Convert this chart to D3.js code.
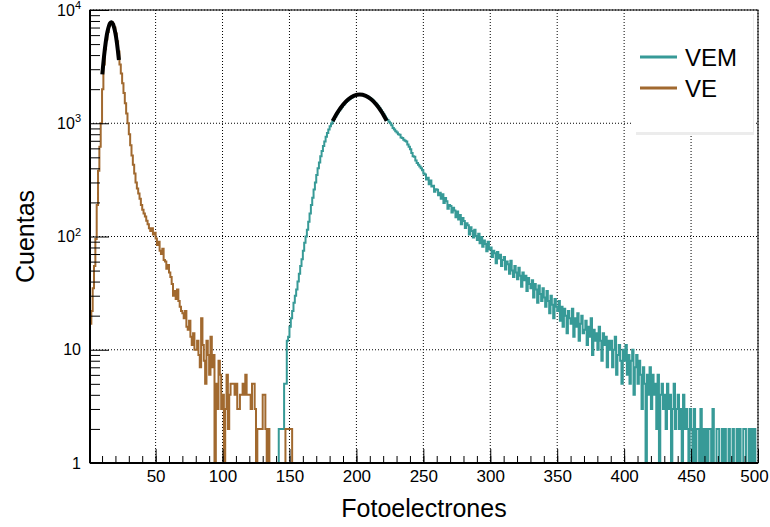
<!DOCTYPE html>
<html>
<head>
<meta charset="utf-8">
<script src="https://cdn.jsdelivr.net/npm/d3@7"></script>
<style>
  body { margin: 0; background: #fff; }
  svg { display: block; font-family: "Liberation Sans", Arial, Helvetica, sans-serif; }
  .tick text { fill: #000; }
</style>
</head>
<body>
<svg width="770" height="527"></svg>
<script>
// Histogram contents (1 unit wide bins, first bin lower edge given)
const veFirstBin = 1;
const veCounts = [
  17, 22, 35, 55, 95, 190, 380, 620, 1000,
  2000, 3300, 4500, 5500, 6400, 7200, 7700, 7800, 7500, 7000,
  6200, 5300, 4300, 3300, 2750, 2250, 1850, 1500, 1220, 1000,
  800, 640, 520, 430, 360, 300, 265, 240, 215, 190,
  172, 160, 150, 138, 128, 118, 112, 118, 104, 108,
  96, 84, 90, 75, 70, 78, 62, 60, 52, 56,
  48, 44, 38, 30, 33, 28, 34, 27, 24, 22,
  21, 19, 22, 16, 15, 18, 13, 11, 14, 10,
  10, 12, 9, 7, 19, 11, 8, 5, 12, 9,
  6, 13, 7, 9, 1, 5, 3, 8, 6, 3,
  4, 1, 3, 6, 2, 4, 5, 5, 5, 4,
  5, 3, 3, 4, 4, 5, 4, 6, 4, 4,
  4, 3, 5, 5, 3, 1, 2, 2, 2, 2,
  4, 4, 2, 1, 2, 1, 0, 1, 1, 0,
  0, 1, 0, 1, 1, 1, 0, 2, 2, 2,
  2, 2, 1, 0, 1, 1, 0, 1, 0, 1,
  0, 0, 1, 0, 0, 0, 0, 1, 0, 0,
  1
];

const vemFirstBin = 141;
const vemCounts = [
  0, 2, 2, 2, 2, 5, 5, 12, 13,
  16, 19, 22, 26, 30, 34, 40, 47, 55, 63,
  75, 88, 100, 115, 135, 160, 190, 220, 260, 300,
  350, 400, 450, 510, 570, 630, 690, 760, 820, 880,
  940, 990, 1040, 1090, 1150, 1200, 1250, 1300, 1350, 1400,
  1450, 1500, 1540, 1580, 1620, 1650, 1680, 1710, 1740, 1760,
  1780, 1785, 1790, 1790, 1785, 1775, 1760, 1740, 1715, 1690,
  1660, 1630, 1590, 1550, 1505, 1460, 1410, 1360, 1300, 1250,
  1200, 1150, 1100, 1070, 1030, 1000, 960, 910, 880, 850,
  830, 800, 790, 750, 740, 715, 700, 690, 650, 620,
  590, 545, 510, 505, 470, 445, 430, 415, 400, 385,
  360, 352, 318, 330, 290, 312, 276, 281, 248, 262,
  259, 231, 244, 215, 236, 198, 219, 205, 176, 190,
  186, 163, 179, 170, 148, 166, 141, 155, 128, 146,
  137, 119, 131, 126, 104, 121, 112, 98, 115, 101,
  93, 106, 87, 99, 81, 92, 86, 74, 90, 77,
  80, 66, 75, 71, 58, 73, 64, 69, 55, 62,
  66, 51, 60, 57, 47, 61, 50, 44, 55, 48,
  42, 53, 45, 36, 48, 41, 45, 33, 43, 38,
  35, 41, 29, 38, 34, 26, 37, 31, 27, 35,
  29, 24, 33, 27, 21, 30, 25, 19, 28, 24,
  22, 27, 18, 24, 16, 23, 20, 14, 22, 19,
  17, 23, 13, 19, 16, 21, 12, 17, 20, 14,
  15, 18, 11, 16, 13, 19, 9, 15, 12, 14,
  10, 16, 12, 8, 14, 11, 13, 7, 12, 10,
  12, 7, 10, 13, 6, 9, 11, 8, 5, 10,
  8, 11, 6, 9, 5, 8, 10, 4, 7, 9,
  5, 8, 6, 3, 7, 5, 1, 6, 4, 7,
  3, 6, 4, 5, 2, 6, 1, 4, 5, 3,
  4, 2, 5, 3, 4, 1, 3, 5, 2, 3,
  4, 2, 3, 1, 4, 2, 3, 2, 1, 3,
  2, 1, 3, 1, 2, 2, 1, 3, 1, 2,
  1, 2, 1, 2, 2, 1, 3, 1, 1, 2,
  2, 1, 1, 2, 1, 2, 1, 1, 2, 1,
  1, 2, 1, 1, 2, 1, 2, 1, 1, 2,
  2, 1, 1, 2, 1, 2, 1, 2, 1, 1
];

// Gaussian fit curves
const veFitX = [10.2, 12, 14, 16, 17, 18, 20, 22.6];
const veFitY = [2700, 4420, 6390, 7650, 7800, 7580, 6220, 3620];
const vemFitX = [182.3, 186, 190, 194, 198, 202.5, 207, 211, 215, 219, 222.6];
const vemFitY = [1047, 1251, 1457, 1628, 1743, 1790, 1743, 1628, 1457, 1251, 1052];

// Axis ticks
const xMajorTicks = [50, 100, 150, 200, 250, 300, 350, 400, 450, 500];
const xMinorTicks = d3.range(10, 501, 10);
const yMajorTicks = [1, 10, 100, 1000, 10000];
const yTickLabels = ["1", "10", "10^2", "10^3", "10^4"];

const legendNames = ["VEM", "VE"];
const colors = { VEM: "#379a97", VE: "#a1692f" };

let margin = { left: 90, right: 12, top: 10, bottom: 64 };
let W = 770, H = 527;
let w = W - margin.left - margin.right;
let h = H - margin.top - margin.bottom;

let svg = d3.select("svg");

let x = d3.scaleLinear().domain([1, 500]).range([0, w]);
let y = d3.scaleLog().domain([1, 10000]).range([h, 0]).clamp(true);

let g = svg.append("g").attr("transform", `translate(${margin.left},${margin.top})`);

// Grid
g.append("g")
  .selectAll("line")
  .data(xMajorTicks)
  .enter().append("line")
  .attr("x1", d => x(d)).attr("x2", d => x(d))
  .attr("y1", 0).attr("y2", h)
  .attr("stroke", "#000").attr("stroke-width", 1).attr("stroke-dasharray", "1,2");

g.append("g")
  .selectAll("line")
  .data(yMajorTicks)
  .enter().append("line")
  .attr("x1", 0).attr("x2", w)
  .attr("y1", d => y(d)).attr("y2", d => y(d))
  .attr("stroke", "#000").attr("stroke-width", 1).attr("stroke-dasharray", "1,2");

// Histograms
let defs = svg.append("defs");
defs.append("clipPath").attr("id", "frameClip")
  .append("rect").attr("width", w).attr("height", h);

let plot = g.append("g").attr("clip-path", "url(#frameClip)");

function histPoints(first, counts) {
  let pts = counts.map((c, i) => [first + i, c]);
  pts.push([first + counts.length, counts[counts.length - 1]]);
  return pts;
}

let stepLine = d3.line()
  .x(d => x(d[0]))
  .y(d => y(Math.max(d[1], 1)))
  .curve(d3.curveStepAfter);

plot.append("path")
  .attr("d", stepLine(histPoints(vemFirstBin, vemCounts)))
  .attr("fill", "none").attr("stroke", colors.VEM).attr("stroke-width", 2);

plot.append("path")
  .attr("d", stepLine(histPoints(veFirstBin, veCounts)))
  .attr("fill", "none").attr("stroke", colors.VE).attr("stroke-width", 2);

// Fits
let fitLine = d3.line()
  .x(d => x(d[0]))
  .y(d => y(d[1]))
  .curve(d3.curveCatmullRom);

plot.append("path")
  .attr("d", fitLine(veFitX.map((v, i) => [v, veFitY[i]])))
  .attr("fill", "none").attr("stroke", "#000").attr("stroke-width", 4);

plot.append("path")
  .attr("d", fitLine(vemFitX.map((v, i) => [v, vemFitY[i]])))
  .attr("fill", "none").attr("stroke", "#000").attr("stroke-width", 4);

// Axes
let xAxis = g.append("g")
  .attr("transform", `translate(0,${h})`)
  .call(d3.axisBottom(x).tickValues(xMajorTicks).tickSize(-14).tickSizeOuter(0).tickPadding(7));
xAxis.select(".domain").remove();
xAxis.selectAll("text").attr("font-size", 17)
  .attr("dx", d => d === 500 ? -4 : 0);

let xMinor = g.append("g")
  .attr("transform", `translate(0,${h})`)
  .call(d3.axisBottom(x).tickValues(xMinorTicks).tickSize(-7).tickSizeOuter(0).tickFormat(""));
xMinor.select(".domain").remove();

let yMinorTicks = [];
[1, 10, 100, 1000].forEach(dec => d3.range(2, 10).forEach(m => yMinorTicks.push(dec * m)));

let yMinor = g.append("g")
  .call(d3.axisLeft(y).tickValues(yMinorTicks).tickSize(-10).tickSizeOuter(0).tickFormat(""));
yMinor.select(".domain").remove();

let yAxis = g.append("g")
  .call(d3.axisLeft(y).tickValues(yMajorTicks).tickSize(-19).tickSizeOuter(0).tickPadding(9)
    .tickFormat((d, i) => yTickLabels[i]));
yAxis.select(".domain").remove();
yAxis.selectAll("text")
  .attr("font-size", 16)
  .each(function(d, i) {
    let parts = yTickLabels[i].split("^");
    let t = d3.select(this).text(parts[0]);
    if (parts.length > 1) {
      t.append("tspan").text(parts[1])
        .attr("font-size", 11).attr("dy", "-0.6em");
    }
  });

g.selectAll(".tick line").attr("stroke", "#000");

// Frame
g.append("rect")
  .attr("width", w).attr("height", h)
  .attr("fill", "none").attr("stroke", "#000").attr("stroke-width", 1);
g.append("line").attr("x1", 0).attr("x2", w).attr("y1", h).attr("y2", h)
  .attr("stroke", "#000").attr("stroke-width", 2);
g.append("line").attr("x1", 0).attr("x2", 0).attr("y1", 0).attr("y2", h)
  .attr("stroke", "#000").attr("stroke-width", 2);

// Axis titles
svg.append("text")
  .text("Fotoelectrones")
  .attr("x", margin.left + w / 2)
  .attr("y", 517)
  .attr("text-anchor", "middle")
  .attr("font-size", 25);

svg.append("text")
  .text("Cuentas")
  .attr("transform", `translate(34,${margin.top + h / 2}) rotate(-90)`)
  .attr("text-anchor", "middle")
  .attr("font-size", 25);

// Legend (soft grey shadow below the white box)
let leg = svg.append("g").attr("transform", "translate(633,11)");
leg.append("rect")
  .attr("x", 3).attr("y", 3).attr("width", 118).attr("height", 121)
  .attr("fill", "#ececec");
leg.append("rect")
  .attr("width", 120).attr("height", 121)
  .attr("fill", "#ffffff");

let items = leg.selectAll(".legend-item")
  .data(legendNames)
  .enter().append("g")
  .attr("class", "legend-item")
  .attr("transform", (d, i) => `translate(0,${46 + i * 31})`);

items.append("line")
  .attr("x1", 7).attr("x2", 44)
  .attr("stroke", d => colors[d]).attr("stroke-width", 3);

items.append("text")
  .text(d => d)
  .attr("x", 52)
  .attr("y", 9)
  .attr("font-size", 24);
</script>
</body>
</html>
